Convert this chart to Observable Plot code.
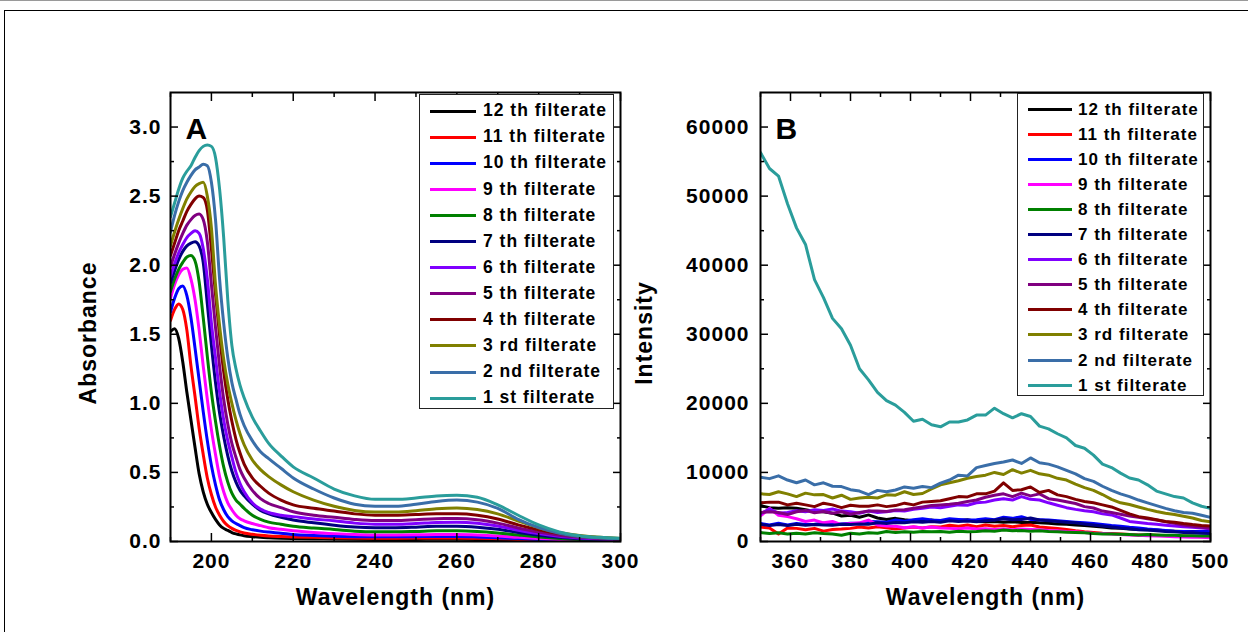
<!DOCTYPE html>
<html>
<head>
<meta charset="utf-8">
<script src="https://cdn.jsdelivr.net/npm/d3@7"></script>
<script src="https://cdn.jsdelivr.net/npm/@observablehq/plot@0.6"></script>
<style>
  html, body { margin: 0; padding: 0; background: #fff; }
  #wrap { position: relative; width: 1248px; height: 632px; overflow: hidden; font-family: "Liberation Sans", Arial, Helvetica, sans-serif; }
  .panel { position: absolute; top: 0; }
  .outer { position: absolute; left: 4px; top: 10px; width: 1400px; height: 800px; border-left: 1.5px solid #000; border-top: 1.5px solid #000; pointer-events: none; }
  .topline { position: absolute; left: 0; top: 0; width: 1248px; height: 1px; background: #9a9a9a; }
  .legend { position: absolute; border: 1px solid #222; background: #fff; box-sizing: border-box; }
  .sw { position: absolute; height: 3px; }
  .lt { position: absolute; font-weight: bold; white-space: nowrap; color: #000; line-height: 1; letter-spacing: 1px; }
</style>
</head>
<body>
<div id="wrap">
  <div class="topline"></div>
  <div id="pa" class="panel" style="left:0px"></div>
  <div id="pb" class="panel" style="left:640px"></div>
  <div class="outer"></div>
</div>
<script>
// ---------- series (legend order) ----------
const seriesNames = ["12 th filterate","11 th filterate","10 th filterate","9 th filterate","8 th filterate","7 th filterate","6 th filterate","5 th filterate","4 th filterate","3 rd filterate","2 nd filterate","1 st filterate"];
const seriesColors = ["#000000","#ff0000","#0000ff","#ff00ff","#008000","#000080","#8000ff","#800080","#800000","#808000","#3a6ea8","#2a9d9b"];

// ---------- Panel A: absorbance ----------
const wavelengthA = [190,191,192,193,194,195,196,197,198,199,200,201,202,203,204,205,206,207,208,210,212,214,217,220,225,230,235,240,245,250,255,260,265,270,275,280,285,290,295,300];
const absA12 = [1.52,1.54,1.47,1.30,1.08,0.88,0.68,0.49,0.36,0.27,0.21,0.16,0.12,0.095,0.08,0.065,0.055,0.048,0.042,0.035,0.03,0.027,0.024,0.022,0.02,0.018,0.016,0.015,0.015,0.015,0.016,0.016,0.015,0.012,0.01,0.008,0.006,0.005,0.004,0.003];
const absA11 = [1.60,1.68,1.72,1.68,1.53,1.27,1.05,0.82,0.63,0.46,0.34,0.25,0.19,0.145,0.115,0.095,0.08,0.07,0.062,0.052,0.045,0.04,0.036,0.033,0.03,0.027,0.025,0.024,0.024,0.025,0.026,0.026,0.024,0.02,0.015,0.011,0.008,0.006,0.005,0.004];
const absA10 = [1.66,1.76,1.83,1.85,1.78,1.62,1.40,1.17,0.94,0.73,0.55,0.41,0.30,0.23,0.18,0.15,0.13,0.115,0.10,0.085,0.075,0.068,0.06,0.05,0.043,0.038,0.035,0.034,0.034,0.035,0.036,0.036,0.033,0.028,0.021,0.015,0.01,0.008,0.006,0.005];
const absA9 = [1.76,1.86,1.93,1.97,1.98,1.90,1.75,1.53,1.27,1.03,0.81,0.63,0.47,0.36,0.28,0.23,0.19,0.165,0.15,0.13,0.115,0.1,0.088,0.078,0.066,0.057,0.05,0.047,0.047,0.048,0.05,0.05,0.047,0.04,0.03,0.022,0.015,0.01,0.008,0.006];
const absA8 = [1.81,1.90,1.97,2.02,2.06,2.07,2.03,1.88,1.62,1.34,1.08,0.87,0.69,0.54,0.43,0.35,0.30,0.27,0.24,0.19,0.16,0.14,0.125,0.11,0.097,0.087,0.075,0.07,0.07,0.073,0.077,0.078,0.073,0.062,0.047,0.033,0.022,0.015,0.011,0.008];
const absA7 = [1.87,1.96,2.04,2.10,2.14,2.16,2.17,2.14,2.02,1.72,1.42,1.15,0.93,0.76,0.62,0.51,0.43,0.37,0.33,0.27,0.225,0.2,0.175,0.155,0.135,0.118,0.105,0.1,0.1,0.104,0.11,0.11,0.103,0.088,0.065,0.045,0.03,0.02,0.015,0.011];
const absA6 = [1.92,2.01,2.09,2.15,2.20,2.23,2.25,2.23,2.12,1.90,1.58,1.33,1.08,0.88,0.73,0.61,0.50,0.42,0.36,0.28,0.235,0.21,0.19,0.18,0.163,0.15,0.133,0.125,0.125,0.13,0.138,0.14,0.132,0.112,0.082,0.057,0.038,0.026,0.018,0.013];
const absA5 = [1.99,2.08,2.16,2.23,2.29,2.33,2.36,2.37,2.33,2.17,1.86,1.55,1.27,1.03,0.85,0.71,0.61,0.52,0.46,0.37,0.31,0.275,0.245,0.215,0.19,0.175,0.16,0.152,0.152,0.158,0.165,0.166,0.157,0.133,0.098,0.068,0.045,0.031,0.022,0.016];
const absA4 = [2.07,2.16,2.25,2.32,2.39,2.44,2.48,2.50,2.49,2.40,2.12,1.79,1.49,1.23,1.03,0.87,0.74,0.64,0.56,0.46,0.40,0.35,0.30,0.265,0.24,0.22,0.2,0.19,0.19,0.195,0.2,0.2,0.19,0.163,0.12,0.084,0.057,0.038,0.027,0.02];
const absA3 = [2.14,2.24,2.33,2.41,2.48,2.53,2.57,2.59,2.60,2.50,2.27,1.86,1.56,1.32,1.14,1.00,0.88,0.78,0.70,0.59,0.52,0.47,0.41,0.36,0.30,0.255,0.225,0.213,0.213,0.222,0.237,0.243,0.232,0.2,0.148,0.1,0.066,0.044,0.03,0.022];
const absA2 = [2.24,2.36,2.46,2.54,2.60,2.65,2.69,2.71,2.73,2.72,2.60,2.33,1.90,1.58,1.33,1.15,1.03,0.92,0.84,0.73,0.65,0.60,0.53,0.46,0.38,0.315,0.27,0.255,0.255,0.27,0.29,0.30,0.285,0.24,0.16,0.1,0.06,0.037,0.026,0.02];
const absA1 = [2.35,2.45,2.55,2.63,2.68,2.72,2.78,2.83,2.86,2.87,2.86,2.78,2.55,2.20,1.75,1.42,1.25,1.13,1.04,0.90,0.80,0.71,0.62,0.54,0.46,0.38,0.33,0.305,0.305,0.315,0.33,0.335,0.32,0.265,0.19,0.12,0.07,0.042,0.03,0.024];
const absSeries = [absA12,absA11,absA10,absA9,absA8,absA7,absA6,absA5,absA4,absA3,absA2,absA1];
const xTicksA = [200,220,240,260,280,300];
const xMinorA = [190,210,230,250,270,290];
const yTicksA = [0,0.5,1,1.5,2,2.5,3];
const yMinorA = [0.25,0.75,1.25,1.75,2.25,2.75];

// ---------- Panel B: fluorescence intensity ----------
const wavelengthB = [350,353,356,359,362,365,368,371,374,377,380,383,386,389,392,395,398,401,404,407,410,413,416,419,422,425,428,431,434,437,440,443,446,449,452,455,458,461,464,467,470,473,476,479,482,485,488,491,494,497,500];
const intB12 = [5200,4900,4800,4900,4800,4600,4350,4300,4100,3700,3800,3500,3850,3400,3200,3350,3150,3000,2900,3100,2900,3200,3050,3150,2900,2850,2900,2800,2850,2750,2800,2700,2650,2550,2500,2400,2300,2200,2100,1950,1900,1800,1750,1700,1650,1550,1500,1450,1450,1450,1400];
const intB11 = [2100,1950,1100,1950,1900,1700,1900,1500,1750,1800,1900,2100,1950,2150,2000,1800,1950,2100,1950,2150,2100,2350,2200,2400,2150,2400,2200,2300,2150,2300,2400,2100,2000,1900,1750,1550,1400,1300,1200,1150,1100,1000,950,950,900,850,800,800,750,700,700];
const intB10 = [2600,2400,2650,2400,2600,2450,2500,2650,2450,2550,2650,2600,2900,2850,2800,3100,2950,3150,3300,3100,3050,3300,3200,3100,3150,3300,3150,3500,3350,3600,3200,3150,3100,3000,2900,2800,2700,2600,2450,2300,2200,2050,1950,1800,1700,1600,1500,1450,1400,1450,1400];
const intB9 = [3700,4800,3800,3600,3300,2900,3100,2700,2900,2450,2600,2700,3100,2400,2250,2200,2000,2150,1950,2100,1950,1900,1850,1950,1800,1850,1750,1800,1700,1800,1750,1700,1600,1550,1450,1400,1300,1200,1150,1100,1000,950,900,850,800,750,700,650,600,600,550];
const intB8 = [1300,1150,1250,1100,1200,1100,1250,1150,1100,900,1200,1100,1250,1200,1450,1300,1400,1350,1450,1400,1450,1350,1500,1400,1450,1550,1500,1650,1550,1600,1500,1550,1450,1400,1350,1300,1250,1150,1100,1100,1050,1000,950,1000,950,900,900,850,850,800,800];
const intB7 = [2500,2300,2450,2300,2500,2350,2450,2400,2350,2500,2450,2550,2500,2700,2600,2750,2700,2850,2800,2900,2800,3000,2900,2950,2850,3000,3100,3300,3150,3200,3400,3100,3000,2900,2800,2700,2550,2400,2250,2100,1950,1850,1700,1650,1550,1450,1400,1300,1250,1200,1150];
const intB6 = [4000,4700,4100,4200,4450,4300,4600,4500,4700,4400,4300,4100,4400,4200,4300,4500,4400,4650,4800,5000,4900,5100,5300,5250,5600,5700,6000,6200,6000,6500,6100,6000,5600,5250,4900,4650,4450,4300,4000,3850,3400,2900,2750,2600,2500,2350,2250,2150,2050,1950,1850];
const intB5 = [4200,4300,4200,3900,4300,4500,4150,4350,4100,4300,3950,4200,4400,4400,4350,4550,4600,4800,5000,5200,5300,5400,5550,5800,6000,6400,6700,6900,6500,7000,6600,6900,6200,6000,5750,5500,5050,4850,4400,4200,3950,3700,3500,3300,3100,2850,2650,2400,2200,2050,1900];
const intB4 = [5600,5700,5700,5300,5550,5300,5050,5550,5300,4900,5250,5100,5100,5300,5050,5200,5550,5300,5700,5800,5900,6200,6500,6450,6900,6900,7300,8500,7400,7500,7900,7100,7400,6750,6500,6100,5800,5600,5300,5000,4500,4000,3600,3400,3150,2900,2780,2600,2450,2330,2250];
const intB3 = [6900,6800,7200,6900,6500,7000,6750,6800,6300,6700,6100,6300,6400,6300,6750,6700,7200,6800,6950,7600,8200,8500,8800,9150,9400,9600,10000,9700,10400,9900,10300,9800,9600,9150,8900,8300,7800,7400,6800,6100,5600,5350,5000,4650,4350,4100,3900,3650,3400,3050,2850];
const intB2 = [9300,9100,9500,8900,8500,8900,8200,8500,8000,7950,7500,7300,6800,7400,7200,7450,7900,7700,7950,7800,8450,8900,9600,9500,10700,11000,11300,11500,11800,11300,12100,11400,11200,10800,10300,9800,9100,8700,8000,7400,6900,6500,6000,5600,5200,4800,4450,4200,4100,3800,3500];
const intB1 = [56300,54000,52900,48900,45400,43000,37900,35300,32300,30800,28400,25000,23400,21600,20400,19750,18700,17400,17700,16900,16600,17300,17300,17600,18300,18300,19300,18500,17900,18500,18100,16700,16300,15600,15000,13900,13500,12500,11200,10700,9900,9200,8900,8200,7300,6900,6500,6300,5600,5100,4800];
const intSeries = [intB12,intB11,intB10,intB9,intB8,intB7,intB6,intB5,intB4,intB3,intB2,intB1];
const xTicksB = [360,380,400,420,440,460,480,500];
const xMinorB = [350,370,390,410,430,450,470,490];
const yTicksB = [0,10000,20000,30000,40000,50000,60000];
const yMinorB = [5000,15000,25000,35000,45000,55000];

// ---------- drawing ----------
const FONT = '"Liberation Sans", Arial, Helvetica, sans-serif';

function makePanel(o) {
  const marks = [];
  seriesNames.forEach((name, k) => {
    const rows = o.xs.map((w, i) => ({w, v: o.series[k][i]}));
    marks.push(Plot.line(rows, {x: "w", y: "v", stroke: seriesColors[k], strokeWidth: 3, curve: o.curve, clip: true}));
  });
  const tickAxis = (axis, anchor, ticks, size) =>
    axis(ticks, {anchor, tickSize: -size, tickFormat: () => "", label: null, strokeWidth: 1.5});
  marks.push(
    tickAxis(Plot.axisX, "bottom", o.xMajor, 8), tickAxis(Plot.axisX, "bottom", o.xMinor, 4),
    tickAxis(Plot.axisX, "top", o.xMajor, 8), tickAxis(Plot.axisX, "top", o.xMinor, 4),
    tickAxis(Plot.axisY, "left", o.yMajor, 8), tickAxis(Plot.axisY, "left", o.yMinor, 4),
    tickAxis(Plot.axisY, "right", o.yMajor, 8), tickAxis(Plot.axisY, "right", o.yMinor, 4),
    Plot.axisX(o.xMajor, {anchor: "bottom", tickSize: 0, tickPadding: 12, label: null, fontSize: 21, fontWeight: "bold"}),
    Plot.axisY(o.yMajor, {anchor: "left", tickSize: 0, tickPadding: o.yPad, tickFormat: o.yFmt, label: null, fontSize: 21, fontWeight: "bold"}),
    Plot.frame({stroke: "#000", strokeWidth: 2}),
    Plot.text([o.letter], {text: d => d, frameAnchor: "top-left", dx: 15, dy: 46, textAnchor: "start", lineAnchor: "bottom", fontSize: 30, fontWeight: "bold"}),
    Plot.text([o.yTitle], {text: d => d, frameAnchor: "left", dx: o.yTitleDx, dy: 16, rotate: -90, textAnchor: "middle", fontSize: 23, fontWeight: "bold"}),
    Plot.text([o.xTitle], {text: d => d, frameAnchor: "bottom", dy: 63, textAnchor: "middle", fontSize: 23, fontWeight: "bold"})
  );
  return Plot.plot({
    width: o.width, height: 632,
    marginLeft: o.ml, marginRight: o.mr, marginTop: 92, marginBottom: 91,
    x: {domain: o.xDomain},
    y: {domain: o.yDomain},
    style: {fontFamily: FONT, background: "transparent", overflow: "visible", color: "#000", letterSpacing: "1px"},
    marks
  });
}

document.getElementById("pa").appendChild(makePanel({
  xs: wavelengthA, series: absSeries, curve: "monotone-x",
  xDomain: [190, 300], yDomain: [0, 3.25],
  xMajor: xTicksA, xMinor: xMinorA, yMajor: yTicksA, yMinor: yMinorA,
  yFmt: d3.format(".1f"), yPad: 9,
  width: 640, ml: 170, mr: 20,
  letter: "A", yTitle: "Absorbance", yTitleDx: -82, xTitle: "Wavelength (nm)"
}));

document.getElementById("pb").appendChild(makePanel({
  xs: wavelengthB, series: intSeries, curve: "linear",
  xDomain: [350, 500], yDomain: [0, 65000],
  xMajor: xTicksB, xMinor: xMinorB, yMajor: yTicksB, yMinor: yMinorB,
  yFmt: d => String(d), yPad: 11,
  width: 608, ml: 120, mr: 38,
  letter: "B", yTitle: "Intensity", yTitleDx: -116, xTitle: "Wavelength (nm)"
}));

// ---------- legends ----------
function makeLegend(cfg) {
  const box = document.createElement("div");
  box.className = "legend";
  Object.assign(box.style, {left: cfg.left + "px", top: cfg.top + "px", width: cfg.width + "px", height: cfg.height + "px"});
  seriesNames.forEach((name, i) => {
    const cy = cfg.firstRow + cfg.step * i - cfg.top;
    const sw = document.createElement("div");
    sw.className = "sw";
    Object.assign(sw.style, {left: cfg.swX + "px", width: cfg.swW + "px", top: (cy - 1.5) + "px", background: seriesColors[i]});
    const t = document.createElement("div");
    t.className = "lt";
    t.textContent = name;
    Object.assign(t.style, {left: cfg.textX + "px", top: (cy - cfg.fs * 0.5) + "px", fontSize: cfg.fs + "px", fontFamily: FONT});
    box.appendChild(sw); box.appendChild(t);
  });
  document.getElementById("wrap").appendChild(box);
}
makeLegend({left: 419, top: 94, width: 195, height: 315, firstRow: 110, step: 26.1, swX: 10, swW: 46, textX: 63, fs: 17.5});
makeLegend({left: 1017, top: 93, width: 187, height: 303, firstRow: 108, step: 25.1, swX: 10, swW: 44, textX: 60, fs: 17});
</script>
</body>
</html>
